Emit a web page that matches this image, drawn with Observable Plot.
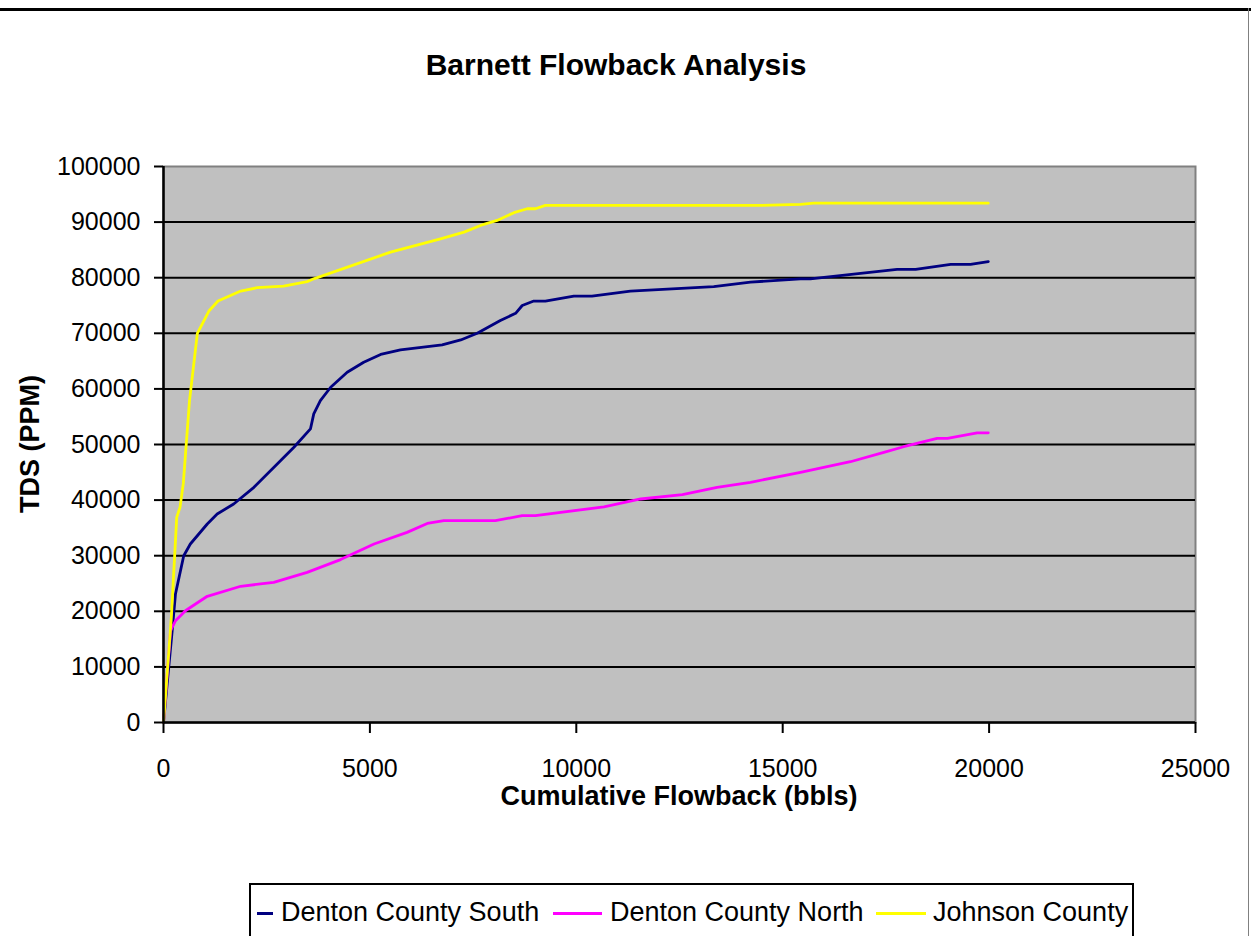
<!DOCTYPE html>
<html>
<head>
<meta charset="utf-8">
<script src="https://cdn.jsdelivr.net/npm/d3@7"></script>
<script src="https://cdn.jsdelivr.net/npm/@observablehq/plot@0.6"></script>
<style>
  html, body { margin: 0; padding: 0; background: white; }
  #wrap { position: relative; width: 1251px; height: 936px; overflow: hidden; font-family: "Liberation Sans", Arial, sans-serif; color: black; }
  #wrap svg { position: absolute; left: 0; top: 0; }
  .abs { position: absolute; white-space: nowrap; }
  #title { left: 0; width: 1232px; top: 50px; text-align: center; font-weight: bold; font-size: 30px; line-height: 30px; }
  #xlabel { left: 163px; width: 1032px; top: 783px; text-align: center; font-weight: bold; font-size: 27px; line-height: 27px; }
  #ylabel { left: 30px; top: 444px; font-weight: bold; font-size: 27px; line-height: 27px; transform: translate(-50%, -50%) rotate(-90deg); }
  #topline { left: 0; top: 8px; width: 1251px; height: 3px; background: black; }
  #rightline { left: 1248px; top: 8px; width: 1px; height: 928px; background: #808080; }
  #legend { left: 249px; top: 883px; width: 885px; height: 60px; border: 2px solid black; box-sizing: border-box; background: white; }
  .lg-line { position: absolute; height: 2.5px; top: 912px; }
  .lg-text { position: absolute; top: 899px; font-size: 27px; line-height: 27px; white-space: nowrap; }
</style>
</head>
<body>
<div id="wrap">
  <div class="abs" id="topline"></div>
  <div class="abs" id="rightline"></div>
  <div class="abs" id="title"></div>
  <div class="abs" id="xlabel"></div>
  <div class="abs" id="ylabel"></div>
  <div class="abs" id="legend"></div>
</div>
<script>
// ---- Data ----
const seriesNames = ["Denton County South", "Denton County North", "Johnson County"];
const seriesColors = ["#000080", "#FF00FF", "#FFFF00"];

const southX = [0, 90, 210, 290, 490, 650, 1060, 1300, 1700, 2190, 3160, 3560, 3640, 3800, 4050, 4450, 4850, 5260, 5740, 6750, 7200, 7600, 8160, 8530, 8690, 8970, 9250, 9940, 10380, 11310, 13330, 14220, 15430, 15670, 17770, 18220, 19070, 19550, 19980];
const southY = [0, 7000, 16500, 23100, 30000, 32100, 35700, 37500, 39300, 42300, 49500, 52800, 55500, 57900, 60300, 63000, 64800, 66200, 67000, 67900, 68800, 70000, 72300, 73600, 75000, 75800, 75800, 76700, 76700, 77600, 78400, 79200, 79800, 79800, 81500, 81500, 82400, 82400, 82900];

const northX = [0, 170, 290, 530, 1060, 1870, 2670, 3480, 4290, 5100, 5900, 6390, 6790, 8040, 8690, 9010, 10670, 11560, 12570, 13410, 14220, 15430, 16640, 17450, 17930, 18740, 18990, 19710, 19980];
const northY = [0, 16500, 18300, 20100, 22700, 24500, 25200, 27000, 29300, 32100, 34200, 35800, 36300, 36300, 37200, 37200, 38800, 40200, 41000, 42300, 43200, 45000, 46900, 48600, 49600, 51100, 51100, 52100, 52100];

const johnsonX = [0, 190, 320, 400, 480, 630, 820, 1100, 1320, 1870, 2270, 2910, 3480, 3640, 5500, 6710, 7280, 7680, 8080, 8490, 8810, 9010, 9250, 14460, 15430, 15750, 19980];
const johnsonY = [0, 18900, 36900, 38700, 43000, 57900, 70000, 74000, 75800, 77600, 78200, 78500, 79300, 79800, 84600, 87000, 88200, 89400, 90300, 91700, 92400, 92400, 93000, 93000, 93200, 93400, 93400];

const xTicks = [0, 5000, 10000, 15000, 20000, 25000];
const yTicks = [0, 10000, 20000, 30000, 40000, 50000, 60000, 70000, 80000, 90000, 100000];

const titleText = "Barnett Flowback Analysis";
const xLabelText = "Cumulative Flowback (bbls)";
const yLabelText = "TDS (PPM)";

// ---- Build tables ----
function toRows(xs, ys, name) { return xs.map((x, i) => ({x, y: ys[i], series: name})); }
const rows = [
  ...toRows(southX, southY, seriesNames[0]),
  ...toRows(northX, northY, seriesNames[1]),
  ...toRows(johnsonX, johnsonY, seriesNames[2])
];

const chart = Plot.plot({
  width: 1251,
  height: 936,
  marginLeft: 163,
  marginRight: 56,
  marginTop: 166,
  marginBottom: 214,
  style: {fontFamily: "'Liberation Sans', Arial, sans-serif", fontSize: "25px", color: "black", background: "transparent", overflow: "visible"},
  x: {domain: [0, 25000], label: null},
  y: {domain: [0, 100000], label: null},
  color: {domain: seriesNames, range: seriesColors},
  marks: [
    Plot.frame({fill: "#C0C0C0", stroke: "#808080", strokeWidth: 2}),
    Plot.ruleY(yTicks.filter(d => d > 0 && d < 100000), {stroke: "black", strokeWidth: 2}),
    Plot.line(rows, {x: "x", y: "y", z: "series", stroke: "series", strokeWidth: 2.8, strokeLinejoin: "round"}),
    Plot.ruleX([0], {stroke: "black", strokeWidth: 2.5}),
    Plot.ruleY([0], {stroke: "black", strokeWidth: 2.5}),
    Plot.axisX({ticks: xTicks, tickSize: 11, tickPadding: 26, tickFormat: d3.format("d"), strokeWidth: 2, fontSize: 25}),
    Plot.axisY({ticks: yTicks, tickSize: 9, tickPadding: 14, tickFormat: d3.format("d"), strokeWidth: 2, fontSize: 25})
  ]
});

const wrap = document.getElementById("wrap");
wrap.insertBefore(chart, wrap.firstChild);

document.getElementById("title").textContent = titleText;
document.getElementById("xlabel").textContent = xLabelText;
document.getElementById("ylabel").textContent = yLabelText;

// legend
const legendLayout = [
  {line: [257, 273], text: 281},
  {line: [553, 602], text: 610},
  {line: [876, 926], text: 933}
];
seriesNames.forEach((name, i) => {
  const L = legendLayout[i];
  const ln = document.createElement("div");
  ln.className = "lg-line";
  ln.style.left = L.line[0] + "px";
  ln.style.width = (L.line[1] - L.line[0]) + "px";
  ln.style.background = seriesColors[i];
  wrap.appendChild(ln);
  const tx = document.createElement("div");
  tx.className = "lg-text";
  tx.style.left = L.text + "px";
  tx.textContent = name;
  wrap.appendChild(tx);
});
</script>
</body>
</html>
